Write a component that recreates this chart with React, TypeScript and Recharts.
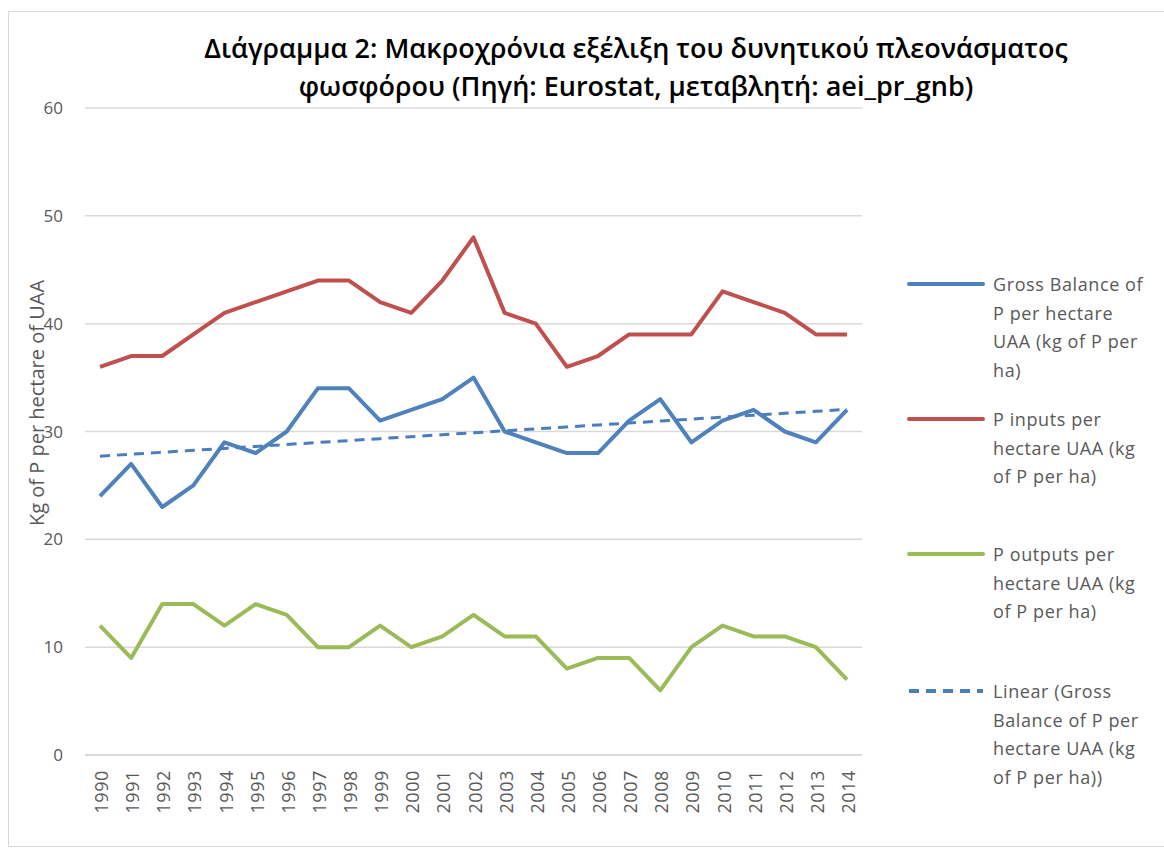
import React from "react";
import { LineChart, Line, XAxis, YAxis, CartesianGrid } from "recharts";

const years = [
  "1990", "1991", "1992", "1993", "1994", "1995", "1996", "1997", "1998", "1999",
  "2000", "2001", "2002", "2003", "2004", "2005", "2006", "2007", "2008", "2009",
  "2010", "2011", "2012", "2013", "2014",
];
const grossBalance = [24, 27, 23, 25, 29, 28, 30, 34, 34, 31, 32, 33, 35, 30, 29, 28, 28, 31, 33, 29, 31, 32, 30, 29, 32];
const pInputs = [36, 37, 37, 39, 41, 42, 43, 44, 44, 42, 41, 44, 48, 41, 40, 36, 37, 39, 39, 39, 43, 42, 41, 39, 39];
const pOutputs = [12, 9, 14, 14, 12, 14, 13, 10, 10, 12, 10, 11, 13, 11, 11, 8, 9, 9, 6, 10, 12, 11, 11, 10, 7];
const yTicks = [0, 10, 20, 30, 40, 50, 60];

// least squares trend of the gross balance series (Excel "Linear" trendline)
const n = grossBalance.length;
const meanX = (n - 1) / 2;
const meanY = grossBalance.reduce((a, b) => a + b, 0) / n;
let sxy = 0;
let sxx = 0;
grossBalance.forEach((v, i) => {
  sxy += (i - meanX) * (v - meanY);
  sxx += (i - meanX) * (i - meanX);
});
const slope = sxy / sxx;

const data = years.map((year, i) => ({
  year,
  gross: grossBalance[i],
  inputs: pInputs[i],
  outputs: pOutputs[i],
  trend: meanY + slope * (i - meanX),
}));

const FONT = "'Open Sans', sans-serif";
const GRAY = "#595959";

const legendItems = [
  { color: "#4F81BD", dash: undefined, lines: ["Gross Balance of", "P per hectare", "UAA (kg of P per", "ha)"] },
  { color: "#C0504D", dash: undefined, lines: ["P inputs per", "hectare UAA (kg", "of P per ha)"] },
  { color: "#9BBB59", dash: undefined, lines: ["P outputs per", "hectare UAA (kg", "of P per ha)"] },
  { color: "#4A7EBB", dash: "10 7", lines: ["Linear (Gross", "Balance of P per", "hectare UAA (kg", "of P per ha))"] },
];
const legendTops = [270, 405, 540, 677];

const YearTick = (props: any) => {
  const { x, y, payload } = props;
  return (
    <text
      transform={`translate(${x + 1},${y}) rotate(-90)`}
      textAnchor="end"
      dominantBaseline="central"
      fill={GRAY}
      fontSize={18}
      letterSpacing={0.6}
      fontFamily={FONT}
    >
      {payload.value}
    </text>
  );
};

export default function App() {
  return (
    <div style={{ position: "absolute", left: 0, top: 0, width: 1164, height: 848, background: "#fff", overflow: "hidden" }}>
      <div style={{ position: "absolute", left: 8, top: 11, width: 1160, height: 834, border: "1px solid #d9d9d9" }} />
      <div
        style={{
          position: "absolute",
          left: 0,
          width: 1272,
          top: 29,
          textAlign: "center",
          fontFamily: FONT,
          fontWeight: 600,
          fontSize: 27,
          lineHeight: "38px",
          color: "#000",
        }}
      >
        Διάγραμμα 2: Μακροχρόνια εξέλιξη του δυνητικού πλεονάσματος
        <br />
        φωσφόρου (Πηγή: Eurostat, μεταβλητή: aei_pr_gnb)
      </div>
      <div
        style={{
          position: "absolute",
          left: 36,
          top: 403,
          transform: "translate(-50%, -50%) rotate(-90deg)",
          whiteSpace: "nowrap",
          fontFamily: FONT,
          fontSize: 20,
          color: GRAY,
        }}
      >
        Kg of P per hectare of UAA
      </div>
      <LineChart
        width={1164}
        height={848}
        data={data}
        margin={{ top: 108, right: 302, bottom: 33, left: 0 }}
        style={{ position: "absolute", left: 0, top: 0 }}
      >
        <CartesianGrid vertical={false} stroke="#d9d9d9" strokeWidth={1.5} />
        <XAxis
          dataKey="year"
          interval={0}
          padding={{ left: 15, right: 15 }}
          axisLine={{ stroke: "#d9d9d9", strokeWidth: 1.5 }}
          tickLine={false}
          height={60}
          tickMargin={9}
          tick={<YearTick />}
        />
        <YAxis
          domain={[0, 60]}
          ticks={yTicks}
          width={85}
          axisLine={false}
          tickLine={false}
          tickMargin={16}
          tick={{ fill: GRAY, fontSize: 17, fontFamily: FONT }}
        />
        <Line dataKey="inputs" stroke="#C0504D" strokeWidth={4} dot={false} isAnimationActive={false} strokeLinejoin="round" />
        <Line dataKey="gross" stroke="#4F81BD" strokeWidth={4} dot={false} isAnimationActive={false} strokeLinejoin="round" />
        <Line dataKey="outputs" stroke="#9BBB59" strokeWidth={4} dot={false} isAnimationActive={false} strokeLinejoin="round" />
        <Line dataKey="trend" stroke="#4A7EBB" strokeWidth={3} strokeDasharray="10 7" dot={false} isAnimationActive={false} />
      </LineChart>
      {legendItems.map((item, k) => (
        <div key={k} style={{ position: "absolute", left: 907, top: legendTops[k], fontFamily: FONT, fontSize: 18, letterSpacing: 0.6, color: GRAY, lineHeight: "28.5px" }}>
          <svg width={80} height={28} style={{ position: "absolute", left: 0, top: 0 }}>
            <line x1={2} y1={14} x2={76} y2={14} stroke={item.color} strokeWidth={4} strokeDasharray={item.dash} strokeLinecap={item.dash ? "butt" : "round"} />
          </svg>
          <div style={{ position: "absolute", left: 86, top: 0, whiteSpace: "nowrap" }}>
            {item.lines.map((l, j) => (
              <div key={j}>{l}</div>
            ))}
          </div>
        </div>
      ))}
    </div>
  );
}
